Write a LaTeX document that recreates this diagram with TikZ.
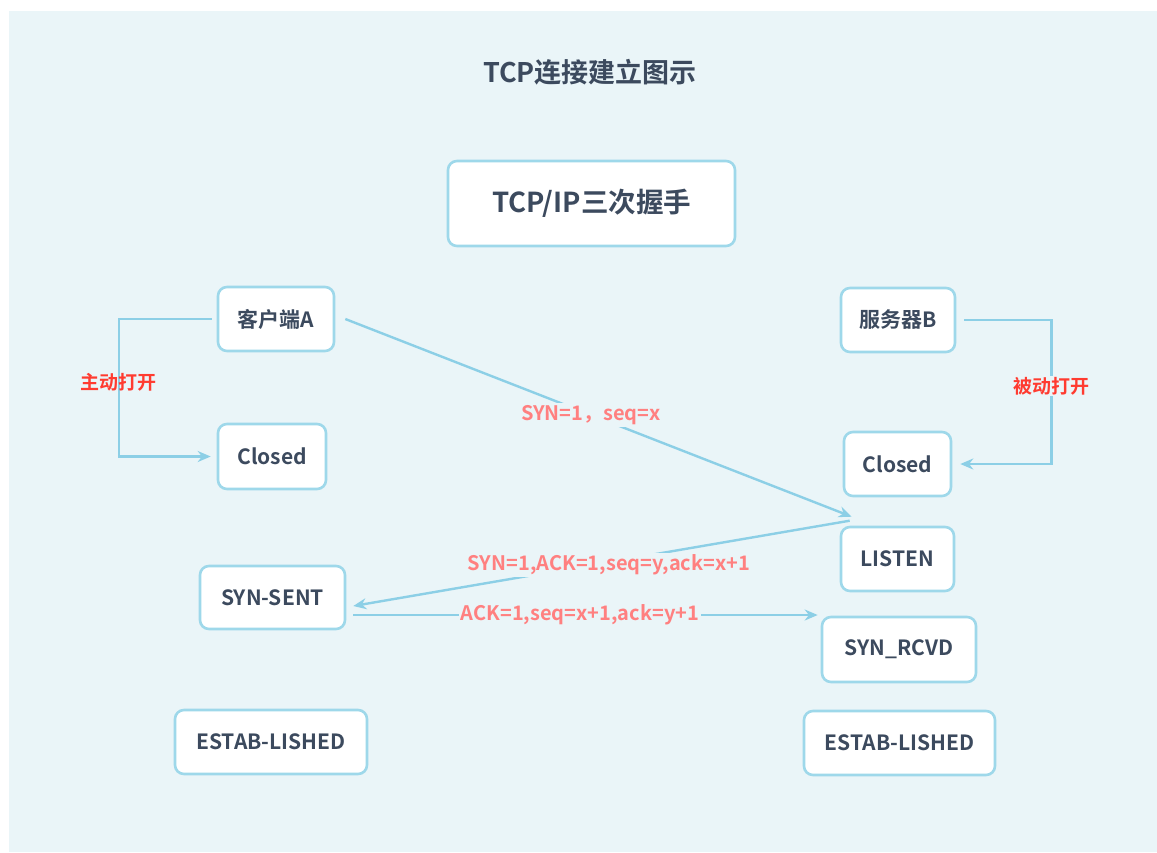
\documentclass[tikz,border=0pt]{standalone}
\usepackage{fontspec}
\setmainfont{Noto Sans CJK SC}[BoldFont={Noto Sans CJK SC Bold}]
\usetikzlibrary{arrows.meta,calc}
\definecolor{bgblue}{HTML}{EAF5F8}
\definecolor{boxline}{HTML}{9ED8EA}
\definecolor{arrowc}{HTML}{8CCFE6}
\definecolor{darktext}{HTML}{3C4A5E}
\definecolor{salmon}{HTML}{FF8080}
\definecolor{redlab}{HTML}{FF3B30}
\begin{document}
\begin{tikzpicture}[x=1pt,y=-1pt,
  statebox/.style={draw=boxline,line width=2.6pt,fill=white,rounded corners=9pt,
    text=darktext,font=\bfseries\fontsize{21}{24}\selectfont,inner sep=0pt,anchor=center},
  conn/.style={draw=arrowc,line width=2.4pt,-{Stealth[length=13pt,width=11pt]}},
  msglab/.style={text=salmon,font=\bfseries\fontsize{20}{22}\selectfont,fill=bgblue,inner sep=2pt},
  openlab/.style={text=redlab,font=\bfseries\fontsize{19}{21}\selectfont,inner sep=1pt}]
\useasboundingbox (0,0) rectangle (1157,852);
\fill[white] (0,0) rectangle (1157,852);
\fill[bgblue] (9,11) rectangle (1157,852);

\node[text=darktext,font=\bfseries\fontsize{27}{30}\selectfont] (title) at (590,72) {TCP连接建立图示};

\node[statebox,minimum width=287pt,minimum height=85pt,font=\bfseries\fontsize{27.5}{30}\selectfont] (hs) at (591.5,203.5) {TCP/IP三次握手};

\node[statebox,minimum width=116pt,minimum height=64pt] (ca) at (276,319) {客户端A};
\node[statebox,minimum width=108pt,minimum height=65pt] (cl) at (272,456.5) {Closed};
\node[statebox,minimum width=114pt,minimum height=64pt] (sb) at (898,320) {服务器B};
\node[statebox,minimum width=107pt,minimum height=64pt] (cr) at (897.5,464) {Closed};
\node[statebox,minimum width=113pt,minimum height=64pt] (ls) at (897.5,559) {LISTEN};
\node[statebox,minimum width=145pt,minimum height=63pt] (ss) at (272.5,597.5) {SYN-SENT};
\node[statebox,minimum width=154pt,minimum height=65pt] (sr) at (899,649.5) {SYN\_RCVD};
\node[statebox,minimum width=192pt,minimum height=64pt] (el) at (271,742) {ESTAB-LISHED};
\node[statebox,minimum width=191pt,minimum height=64pt] (er) at (899.5,743) {ESTAB-LISHED};

% active open (client)
\draw[conn,shorten <=5pt,shorten >=6pt] (ca.west) -- ++(-98,0) |- (cl.west);
\node[openlab] (lab1) at (118,382) {主动打开};

% passive open (server)
\draw[conn,shorten <=8pt,shorten >=8pt] (sb.east) -- ++(95,0) |- (cr.east);
\node[openlab,fill=bgblue] (lab2) at (1051,386) {被动打开};

% SYN
\coordinate (p1s) at ($(ca.east)+(10,0)$);
\coordinate (p1e) at ($(ls.north west)+(12,-9)$);
\draw[conn] (p1s) -- (p1e);
\node[msglab] (m1) at (591,415) {SYN=1，seq=x};

% SYN ACK
\coordinate (p2s) at ($(ls.north west)+(10,-5)$);
\coordinate (p2e) at ($(ss.east)+(7,8.5)$);
\draw[conn] (p2s) -- (p2e);
\node[msglab] (m2) at (609,565) {SYN=1,ACK=1,seq=y,ack=x+1};

% ACK
\coordinate (p3s) at ($(ss.east)+(7,17.5)$);
\coordinate (p3e) at ($(sr.west)+(-3,-34.5)$);
\draw[conn] (p3s) -- (p3e);
\node[msglab] (m3) at (580,615) {ACK=1,seq=x+1,ack=y+1};
\end{tikzpicture}
\end{document}
